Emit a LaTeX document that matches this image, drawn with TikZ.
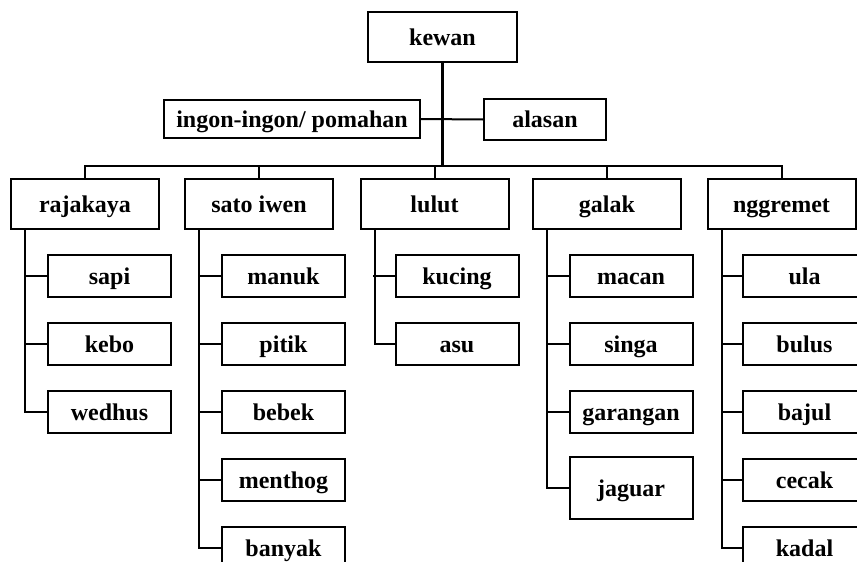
\documentclass[tikz,border=0pt]{standalone}
\usepackage{fontspec}
\setmainfont{Liberation Serif}
\usetikzlibrary{positioning,calc}

\begin{document}
\begin{tikzpicture}[
    x=1pt, y=-1pt,
    box/.style={draw, line width=2pt, inner sep=0pt, minimum width=148pt, minimum height=50pt, text height=18pt, text depth=2pt, font=\bfseries\fontsize{24}{26}\selectfont},
    leaf/.style={box, minimum width=123pt, minimum height=42pt},
    link/.style={line width=2pt},
    trunk/.style={line width=3pt}
]
\useasboundingbox (0,0) rectangle (857,562);
\clip (0,0) rectangle (857,562);

% top of the tree
\node[box, minimum width=149pt] (kewan) at (442.5,37) {kewan};
\node[box, minimum width=256pt, minimum height=38pt] (ingon) at (292,119) {ingon-ingon/ pomahan};
\node[box, minimum width=122pt, minimum height=41pt] (alasan) at (545,119.5) {alasan};
\coordinate (bus) at (0,166);

% groups
\node[box] (raja) at (85,204) {rajakaya};
\node[box] (sato) at (259,204) {sato iwen};
\node[box] (lulut) at (434.5,204) {lulut};
\node[box] (galak) at (607,204) {galak};
\node[box] (nggre) at (781.5,204) {nggremet};

% members
\node[leaf] (sapi) at (109.5,276) {sapi};
\node[leaf] (kebo) at (109.5,344) {kebo};
\node[leaf] (wedhus) at (109.5,412) {wedhus};

\node[leaf] (manuk) at (283.5,276) {manuk};
\node[leaf] (pitik) at (283.5,344) {pitik};
\node[leaf] (bebek) at (283.5,412) {bebek};
\node[leaf] (menthog) at (283.5,480) {menthog};
\node[leaf] (banyak) at (283.5,548) {banyak};

\node[leaf] (kucing) at (457,276) {kucing};
\node[leaf] (asu) at (457,344) {asu};

\node[leaf] (macan) at (631,276) {macan};
\node[leaf] (singa) at (631,344) {singa};
\node[leaf] (garangan) at (631,412) {garangan};
\node[leaf, minimum height=62pt] (jaguar) at (631,488) {jaguar};

\node[leaf] (ula) at (804.5,276) {ula};
\node[leaf] (bulus) at (804.5,344) {bulus};
\node[leaf] (bajul) at (804.5,412) {bajul};
\node[leaf] (cecak) at (804.5,480) {cecak};
\node[leaf] (kadal) at (804.5,548) {kadal};

% trunk and bus
\draw[trunk] (kewan.south) -- (kewan.south |- bus);
\draw[link] (ingon.east) -- (alasan.west);
\draw[link] (raja.north) -- (raja.north |- bus) -- (nggre.north |- bus) -- (nggre.north);
\draw[link] (sato.north) -- (sato.north |- bus);
\draw[link] (lulut.north) -- (lulut.north |- bus);
\draw[link] (galak.north) -- (galak.north |- bus);

% branches down each group
\draw[link] ([xshift=15pt]raja.south west) |- (wedhus.west);
\draw[link] (sapi.west) -- ++(-22,0);
\draw[link] (kebo.west) -- ++(-22,0);

\draw[link] ([xshift=15pt]sato.south west) |- (banyak.west);
\draw[link] (manuk.west) -- ++(-22,0);
\draw[link] (pitik.west) -- ++(-22,0);
\draw[link] (bebek.west) -- ++(-22,0);
\draw[link] (menthog.west) -- ++(-22,0);

\draw[link] ([xshift=15pt]lulut.south west) |- (asu.west);
\draw[link] (kucing.west) -- ++(-22,0);

\draw[link] ([xshift=15pt]galak.south west) |- (jaguar.west);
\draw[link] (macan.west) -- ++(-22,0);
\draw[link] (singa.west) -- ++(-22,0);
\draw[link] (garangan.west) -- ++(-22,0);

\draw[link] ([xshift=15pt]nggre.south west) |- (kadal.west);
\draw[link] (ula.west) -- ++(-21,0);
\draw[link] (bulus.west) -- ++(-21,0);
\draw[link] (bajul.west) -- ++(-21,0);
\draw[link] (cecak.west) -- ++(-21,0);
\end{tikzpicture}
\end{document}
